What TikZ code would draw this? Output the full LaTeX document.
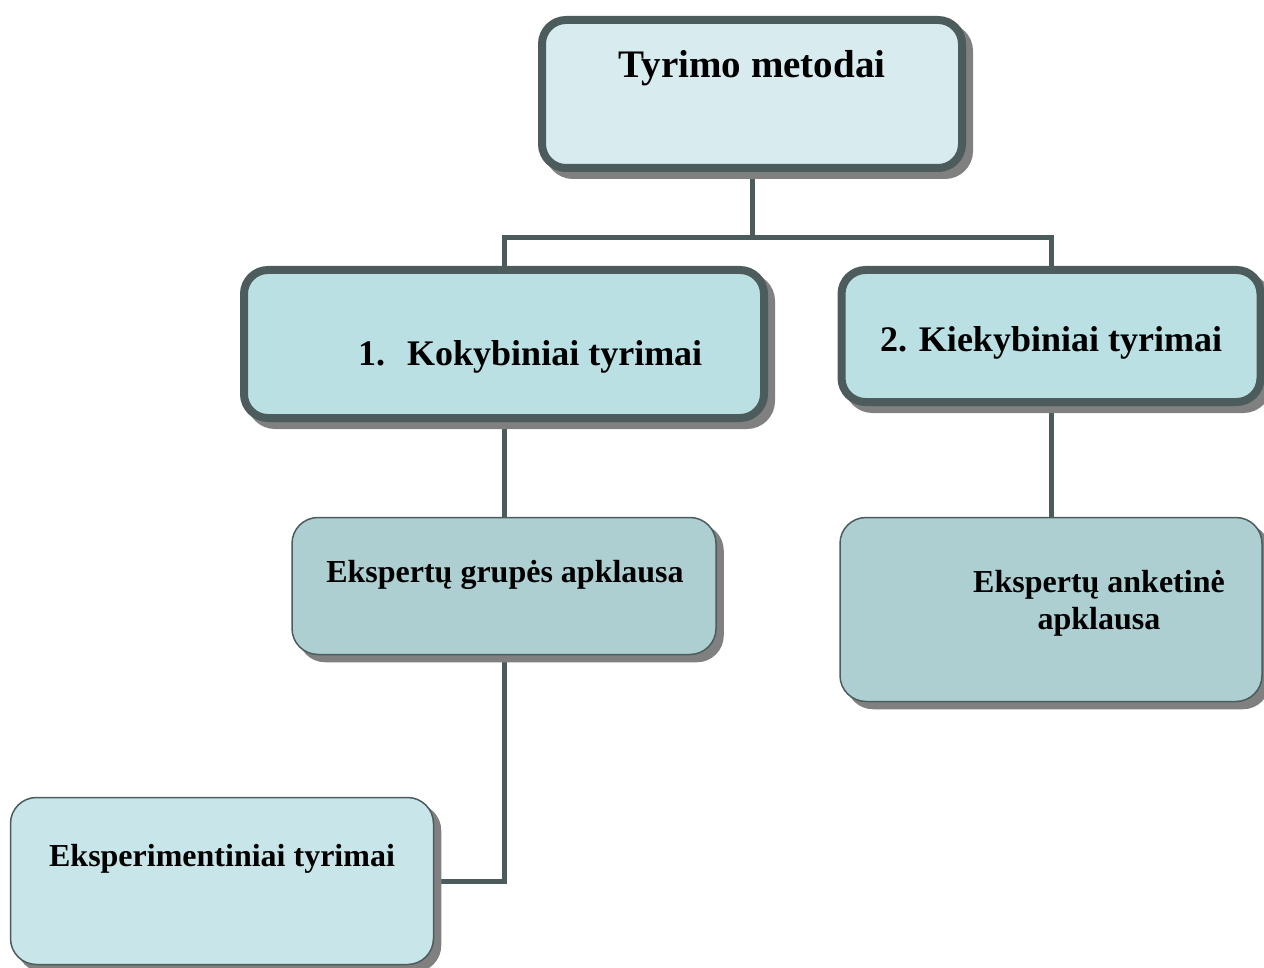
\documentclass[tikz,border=0pt]{standalone}
\usepackage{fontspec}
\setmainfont{Liberation Serif}
\usetikzlibrary{shadows,backgrounds}
\definecolor{edgegray}{HTML}{4C5B5C}
\definecolor{shadowgray}{HTML}{808080}
\definecolor{topfill}{HTML}{D8ECEF}
\definecolor{midfill}{HTML}{BAE0E3}
\definecolor{lowfill}{HTML}{AECFD2}
\definecolor{pale}{HTML}{C8E6E9}
\begin{document}
\begin{tikzpicture}[x=1pt,y=-1pt,
  heavybox/.style={draw=edgegray, line width=8pt, rounded corners=24pt, inner sep=0pt,
    drop shadow={shadow xshift=7pt, shadow yshift=-7pt, fill=shadowgray, draw=shadowgray, line width=8pt, opacity=1}},
  lightbox/.style={draw=edgegray, line width=1.5pt, rounded corners=26pt, inner sep=0pt,
    drop shadow={shadow xshift=7pt, shadow yshift=-7pt, fill=shadowgray, draw=shadowgray, line width=1.5pt, opacity=1}},
  link/.style={draw=edgegray, line width=5pt},
  bigtext/.style={font=\fontsize{39}{43}\selectfont\bfseries, inner sep=0pt, anchor=base},
  midtext/.style={font=\fontsize{36}{40}\selectfont\bfseries, inner sep=0pt, anchor=base},
  smalltext/.style={font=\fontsize{32}{37}\selectfont\bfseries, inner sep=0pt, anchor=base, align=center}]
\useasboundingbox (0,0) rectangle (1264,968);

% boxes
\node[heavybox, fill=topfill, minimum width=420pt, minimum height=148pt] (top) at (752,94) {};
\node[heavybox, fill=midfill, minimum width=520pt, minimum height=148pt] (kok) at (504,344) {};
\node[heavybox, fill=midfill, minimum width=419pt, minimum height=132pt] (kiek) at (1051,336) {};
\node[lightbox, fill=lowfill, minimum width=424pt, minimum height=137pt] (grp) at (504,586) {};
\node[lightbox, fill=lowfill, minimum width=422pt, minimum height=184pt] (ank) at (1051,609.5) {};
\node[lightbox, fill=pale, minimum width=423pt, minimum height=167pt] (exp) at (222,881) {};

% connectors behind the boxes
\coordinate (split) at (752,238);
\begin{scope}[on background layer]
  \draw[link] (top.south) -- (split);
  \draw[link] (kok.north) -- (kok.north |- split) -- (kiek.north |- split) -- (kiek.north);
  \draw[link] (kok.south) -- (grp.north);
  \draw[link] (kiek.south) -- (ank.north);
  \draw[link] (grp.south) |- (exp.east);
\end{scope}

% labels
\node[bigtext] (ttop) at (752,78) {Tyrimo metodai};
\node[midtext, anchor=base west] (tkok) at (358,366) {1.\hspace{22pt}Kokybiniai tyrimai};
\node[midtext] (tkiek) at (1051,352) {2. Kiekybiniai tyrimai};
\node[smalltext] (tgrp) at (505,582) {Ekspertų grupės apklausa};
\node[smalltext] (tank1) at (1099,592) {Ekspertų anketinė};
\node[smalltext] (tank2) at (1099,629) {apklausa};
\node[smalltext] (texp) at (222,866) {Eksperimentiniai tyrimai};
\end{tikzpicture}
\end{document}
